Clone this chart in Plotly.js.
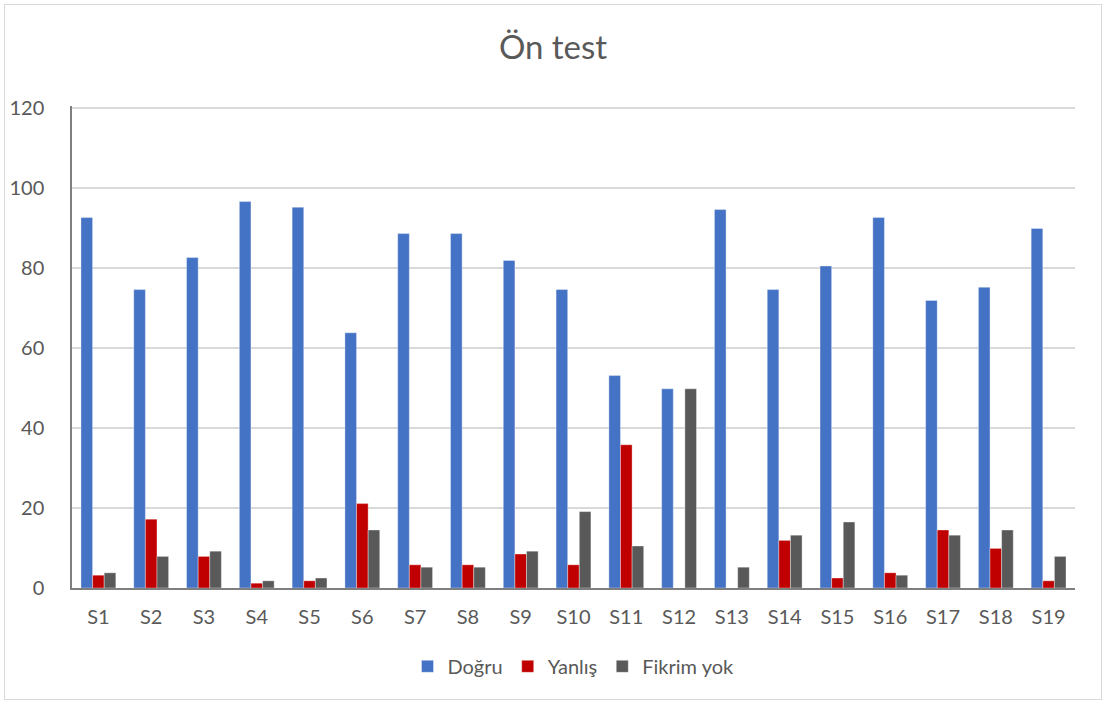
<!DOCTYPE html>
<html>
<head>
<meta charset="utf-8">
<script src="https://cdn.plot.ly/plotly-3.0.1.min.js"></script>
<style>
html,body{margin:0;padding:0;background:#fff;}
#wrap{position:relative;width:1106px;height:704px;}
#chart{width:1106px;height:704px;}
#frame{position:absolute;left:4px;top:4px;width:1096px;height:694px;border:1px solid #d9d9d9;pointer-events:none;}
</style>
</head>
<body>
<div id="wrap"><div id="chart"></div><div id="frame"></div></div>
<script>
const categories = ["S1","S2","S3","S4","S5","S6","S7","S8","S9","S10","S11","S12","S13","S14","S15","S16","S17","S18","S19"];
const dogru = [92.6,74.6,82.6,96.6,95.2,63.8,88.6,88.6,81.9,74.6,53.1,49.8,94.6,74.6,80.5,92.6,71.9,75.2,89.9];
const yanlis = [3.2,17.2,7.9,1.2,1.8,21.1,5.8,5.8,8.5,5.8,35.8,0,0,11.9,2.5,3.8,14.5,9.9,1.8];
const fikrimYok = [3.8,7.9,9.2,1.8,2.5,14.5,5.2,5.2,9.2,19.1,10.5,49.8,5.2,13.2,16.5,3.2,13.2,14.5,7.9];
const seriesNames = ["Doğru","Yanlış","Fikrim yok"];
const yTicks = [0,20,40,60,80,100,120];

const colors = ["#4472c4","#c00000","#595959"];
const data = [dogru, yanlis, fikrimYok].map((vals, i) => ({
  type: 'bar',
  name: seriesNames[i],
  x: categories,
  y: vals,
  marker: {color: colors[i], line: {color: 'rgba(255,255,255,0.6)', width: 0.6}},
  hoverinfo: 'x+y+name'
}));

const font = "Lato, 'Open Sans', sans-serif";
const layout = {
  width: 1106, height: 704,
  margin: {l: 72, r: 31, t: 106, b: 116},
  paper_bgcolor: '#ffffff', plot_bgcolor: '#ffffff',
  font: {family: font, color: '#595959', size: 20},
  title: {text: 'Ön test', x: 0.5, xanchor: 'center', y: 0.932, yanchor: 'middle', font: {family: font, size: 33, color: '#595959'}},
  barmode: 'group',
  bargap: 0.34,
  bargroupgap: 0,
  xaxis: {
    type: 'category',
    showline: true, linecolor: '#7f7f7f', linewidth: 1.5,
    showgrid: false, ticks: '', zeroline: false,
    tickfont: {family: font, size: 20, color: '#595959'},
    ticklabelstandoff: 10
  },
  yaxis: {
    range: [0, 120.5], tickvals: yTicks, ticktext: yTicks.map(String),
    showline: true, linecolor: '#7f7f7f', linewidth: 1.5,
    showgrid: true, gridcolor: '#d9d9d9', gridwidth: 1.5,
    zeroline: false, ticks: '', ticklen: 0,
    tickfont: {family: font, size: 20, color: '#595959'},
    ticklabelstandoff: 22
  },
  legend: {
    orientation: 'h', x: 0.5, xanchor: 'center', y: -0.1625, yanchor: 'middle',
    font: {family: font, size: 20, color: '#595959'},
    itemwidth: 30, traceorder: 'normal'
  },
  showlegend: true
};

Plotly.newPlot('chart', data, layout, {displayModeBar: false, responsive: false});
</script>
</body>
</html>
